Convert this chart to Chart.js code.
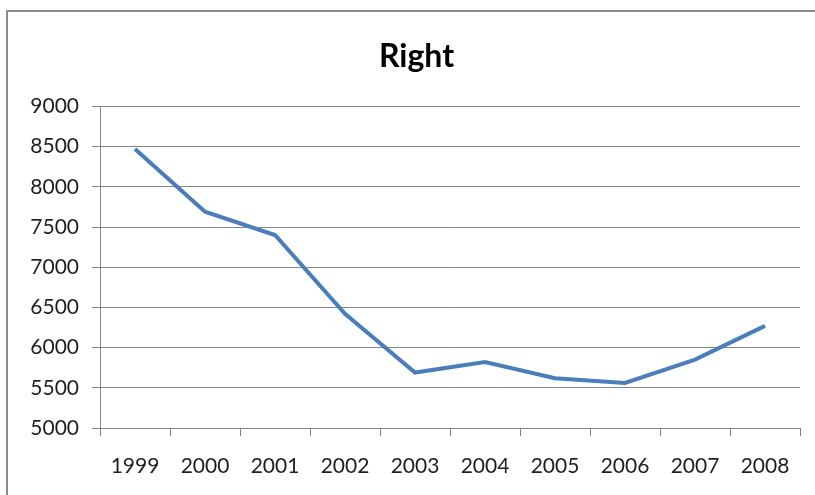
<!DOCTYPE html>
<html>
<head>
<meta charset="utf-8">
<style>
  html, body { margin: 0; padding: 0; background: #ffffff; overflow: hidden; }
  #chart { display: block; }
</style>
<script src="https://cdn.jsdelivr.net/npm/chart.js@4/dist/chart.umd.min.js"></script>
</head>
<body>
<canvas id="chart" width="815" height="495"></canvas>
<script>
// Years on the category axis
const years = ['1999', '2000', '2001', '2002', '2003', '2004', '2005', '2006', '2007', '2008'];
// Yearly values of the "Right" series
const rightValues = [8470, 7690, 7400, 6420, 5690, 5820, 5620, 5560, 5850, 6270];
// Value axis range and step
const yMin = 5000;
const yMax = 9000;
const yStep = 500;

const gridGray = '#868686';
const textColor = '#1f1f1f';
const fontFamily = 'Lato, "Open Sans", sans-serif';

// Outer chart frame: only its left and top edges fall inside the canvas
const framePlugin = {
  id: 'frame',
  beforeDraw(chart) {
    const ctx = chart.ctx;
    ctx.save();
    ctx.strokeStyle = '#8c8c8c';
    ctx.lineWidth = 2;
    ctx.beginPath();
    ctx.moveTo(7, chart.height);
    ctx.lineTo(7, 11);
    ctx.lineTo(chart.width, 11);
    ctx.stroke();
    ctx.restore();
  }
};

new Chart(document.getElementById('chart'), {
  type: 'line',
  data: {
    labels: years,
    datasets: [{
      label: 'Right',
      data: rightValues,
      borderColor: '#4A7EBB',
      borderWidth: 4,
      pointRadius: 0,
      pointHoverRadius: 0,
      tension: 0,
      fill: false
    }]
  },
  plugins: [framePlugin],
  options: {
    responsive: false,
    animation: false,
    layout: { padding: { left: 18, right: 0, top: 0, bottom: 0 } },
    plugins: {
      legend: { display: false },
      tooltip: { enabled: false },
      title: {
        display: true,
        text: 'Right',
        color: '#000000',
        font: { family: fontFamily, size: 32, weight: 'bold', lineHeight: 1.2 },
        padding: { top: 37, bottom: 31 }
      }
    },
    scales: {
      x: {
        type: 'category',
        offset: true,
        grid: {
          offset: true,
          drawOnChartArea: false,
          drawTicks: true,
          tickLength: 8,
          color: gridGray,
          lineWidth: 1
        },
        border: { display: true, color: gridGray, width: 1 },
        ticks: {
          color: textColor,
          padding: 18,
          maxRotation: 0,
          autoSkip: false,
          font: { family: fontFamily, size: 21 }
        },
        afterFit: (scale) => { scale.height = 67; }
      },
      y: {
        position: 'left',
        min: yMin,
        max: yMax,
        grid: {
          color: gridGray,
          lineWidth: 1,
          drawTicks: true,
          tickLength: 8
        },
        border: { display: true, color: gridGray, width: 1 },
        ticks: {
          stepSize: yStep,
          color: textColor,
          padding: 13,
          font: { family: fontFamily, size: 21 },
          callback: (value) => String(value)
        },
        afterFit: (scale) => { scale.width = 82; }
      },
      yRight: {
        position: 'right',
        display: true,
        grid: { display: false, drawTicks: false },
        border: { display: false },
        ticks: { display: false },
        afterFit: (scale) => { scale.width = 15; }
      }
    }
  }
});
</script>
</body>
</html>
